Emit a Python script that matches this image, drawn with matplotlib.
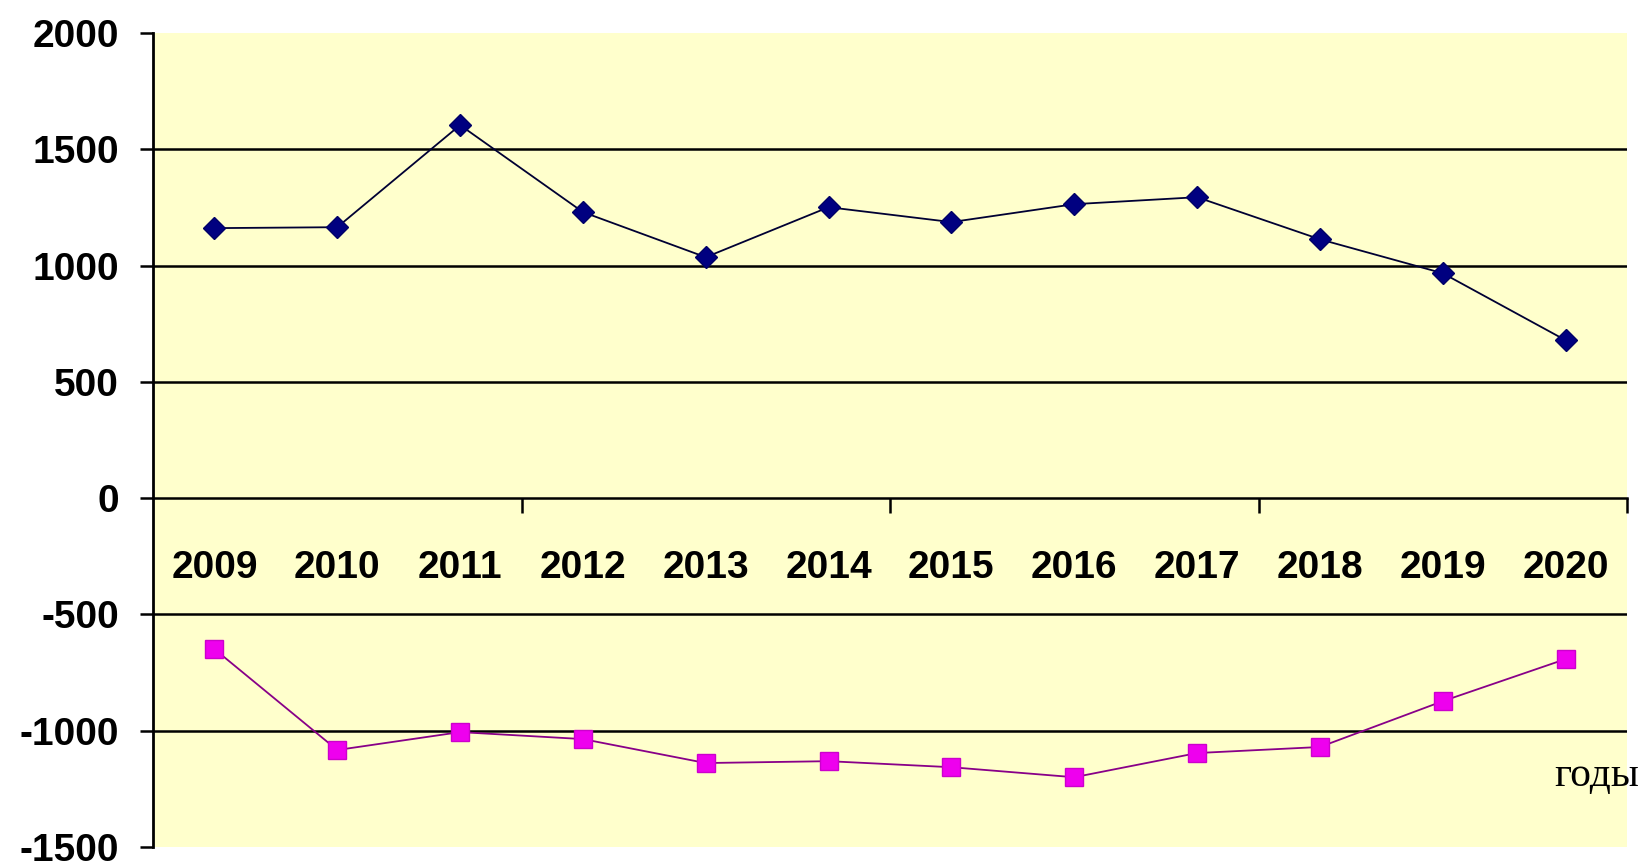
import numpy as np
import matplotlib.pyplot as plt
from matplotlib.ticker import FixedLocator

# Values
years = ['2009', '2010', '2011', '2012', '2013', '2014',
         '2015', '2016', '2017', '2018', '2019', '2020']
upper = [1161, 1165, 1604, 1230, 1036, 1251, 1187, 1264, 1294, 1113, 967, 679]
lower = [-649, -1083, -1006, -1036, -1139, -1131, -1157, -1200, -1096, -1070, -873, -692]
yticks = [-1500, -1000, -500, 0, 500, 1000, 1500, 2000]

plt.rcParams['font.family'] = ['Liberation Sans', 'DejaVu Sans']

fig = plt.figure(figsize=(16.39, 8.61), dpi=100)
ax = fig.add_axes([153 / 1639, 1 - 847 / 861, (1627 - 153) / 1639, (847 - 33) / 861])
ax.set_facecolor('#FFFFCC')

x = np.arange(len(years))

# horizontal gridlines (not at the limits)
for v in yticks[1:-1]:
    if v != 0:
        ax.axhline(v, color='black', linewidth=1.8, zorder=1)

ax.plot(x, upper, color='#000033', linewidth=1.3, marker='D', markersize=11,
        markerfacecolor='#000080', markeredgecolor='#000066', zorder=3)
ax.plot(x, lower, color='#880088', linewidth=1.3, marker='s', markersize=13,
        markerfacecolor='#EE00EE', markeredgecolor='#CC00CC', zorder=3)

ax.set_xlim(-0.5, len(years) - 0.5)
ax.set_ylim(yticks[0], yticks[-1])
ax.set_yticks(yticks)
ax.set_yticklabels([str(v) for v in yticks], fontsize=28, fontweight='bold')
ax.tick_params(axis='y', direction='out', length=9.5, width=1.8, pad=15)

# category axis sits on the zero line
for s in ['top', 'right']:
    ax.spines[s].set_visible(False)
ax.spines['left'].set_linewidth(2.0)
ax.spines['bottom'].set_position(('data', 0))
ax.spines['bottom'].set_linewidth(1.8)

ax.set_xticks(x)
ax.set_xticklabels(years, fontsize=28, fontweight='bold')
ax.tick_params(axis='x', which='major', length=0, pad=37)
ax.xaxis.set_minor_locator(FixedLocator(np.arange(2.5, len(years), 3)))
ax.tick_params(axis='x', which='minor', direction='out', length=11, width=1.8)

fig.text(1639 / 1639, 1 - 776 / 861, 'годы', ha='right', va='center',
         fontsize=30, family=['Liberation Serif', 'DejaVu Serif'])

fig.savefig('out.png', dpi=100)
